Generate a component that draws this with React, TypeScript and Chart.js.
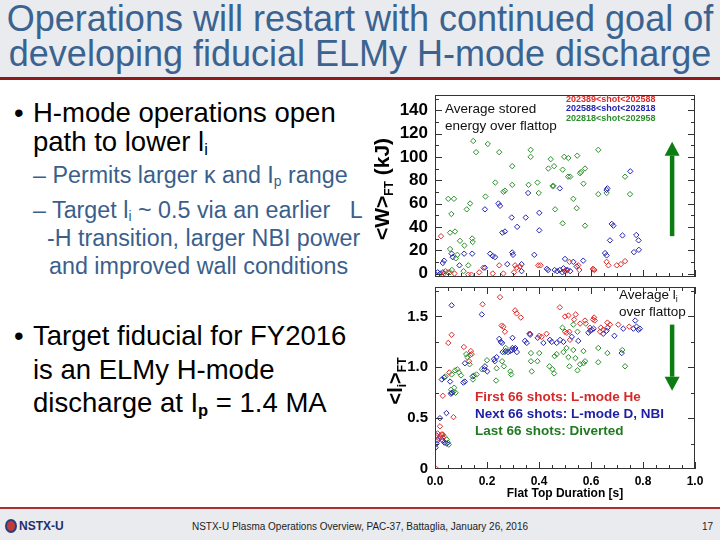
import React, { useEffect, useRef } from "react";
import { Chart, registerables } from "chart.js";

Chart.register(...registerables);

const RED = "#e02a2a";
const BLUE = "#2424b0";
const GREEN = "#2e8e2e";
const ARROW = "#0b7d12";
const FONT = '"Liberation Sans", Arial, Helvetica, sans-serif';

// Top panel: average stored energy <W>FT (kJ) vs flat top duration (s)
const wRed: [number, number][] = [
  [0.023, 32], [0.035, 0], [0.05, 1], [0.075, 0], [0.128, -1], [0.14, -1], [0.17, 1], [0.186, 5],
  [0.222, 0], [0.247, 7], [0.263, 0], [0.308, 7], [0.314, 5], [0.304, 1], [0.327, 6], [0.397, 7],
  [0.406, 7], [0.5, 2], [0.505, 3], [0.517, 10], [0.551, 7], [0.555, 3], [0.607, 4], [0.613, 3],
  [0.61, 3.5], [0.667, 7], [0.66, 10], [0.699, 7], [0.715, 8], [0.731, 10.6],
];
const wBlue: [number, number][] = [
  [0.244, 60], [0.25, 58], [0.192, 55], [0.295, 48], [0.259, 35], [0.269, 36], [0.316, 40], [0.349, 48],
  [0.401, 52], [0.401, 37], [0.358, 69], [0.48, 73], [0.663, 73], [0.66, 71.6], [0.751, 87.6], [0.68, 42.5],
  [0.686, 41], [0.673, 28.4], [0.721, 32.6], [0.774, 33], [0.783, 28.4], [0.765, 18.3], [0.784, 20.3],
  [0.654, 17.5], [0.66, 15.5], [0.57, 11], [0.5, 12.5], [0.494, 4.5], [0.03, 9], [0.035, 11], [0.064, 17],
  [0.068, 14], [0.094, 7], [0.112, 17], [0.143, 17], [0.212, 17], [0.222, 15], [0.231, 14], [0.297, 18],
  [0.3, 16], [0.278, 8], [0.333, 8], [0.382, 16], [0.333, 2], [0.192, 5], [0.43, 4], [0.435, 3],
  [0.532, 10], [0.545, 6], [0.46, 3], [0.47, 2], [0.48, 3], [0.49, 1], [0.5, 2], [0.51, 3], [0.52, 2],
  [0.0, 0], [0.01, 1], [0.02, 0], [0.03, 1],
];
const wGreen: [number, number][] = [
  [0.147, 113.6], [0.158, 104], [0.203, 111], [0.247, 104], [0.297, 92], [0.368, 106], [0.368, 100],
  [0.445, 98], [0.458, 92], [0.436, 90], [0.497, 100], [0.513, 99], [0.547, 101], [0.491, 89], [0.512, 83],
  [0.52, 83], [0.558, 86], [0.562, 87], [0.577, 90], [0.628, 106], [0.571, 77], [0.232, 78], [0.194, 66],
  [0.263, 70], [0.269, 71], [0.297, 76], [0.36, 76], [0.394, 78], [0.399, 69], [0.452, 75], [0.456, 75],
  [0.462, 55], [0.491, 43], [0.532, 64], [0.545, 56], [0.577, 41], [0.628, 68], [0.66, 69], [0.75, 68],
  [0.731, 83], [0.051, 64], [0.073, 64], [0.063, 51], [0.122, 55], [0.135, 60], [0.058, 35], [0.077, 36],
  [0.096, 28], [0.113, 24], [0.143, 30], [0.145, 27], [0.058, 21], [0.086, 16], [0.08, 13], [0.128, 7],
  [0.11, 2], [0.058, 1], [0.04, 2], [0.065, 3],
];

// Bottom panel: average internal inductance <li>FT vs flat top duration (s)
const liRed: [number, number][] = [
  [0.25, 1.69], [0.183, 1.62], [0.308, 1.56], [0.314, 1.53], [0.33, 1.49], [0.48, 1.59], [0.5, 1.5],
  [0.513, 1.51], [0.535, 1.47], [0.541, 1.52], [0.558, 1.43], [0.577, 1.46], [0.608, 1.47], [0.612, 1.49],
  [0.615, 1.46], [0.596, 1.39], [0.638, 1.39], [0.663, 1.44], [0.673, 1.42], [0.705, 1.42], [0.747, 1.4],
  [0.635, 1.35], [0.647, 1.37], [0.256, 1.41], [0.263, 1.4], [0.269, 1.35], [0.064, 1.32], [0.051, 1.24],
  [0.111, 1.2], [0.138, 1.16], [0.141, 1.13], [0.131, 1.06], [0.401, 1.31], [0.41, 1.3], [0.363, 1.33],
  [0.429, 1.33], [0.5, 1.35], [0.507, 1.34], [0.517, 1.35], [0.519, 1.27], [0.055, 0.95], [0.03, 0.72],
  [0.071, 0.51], [0.01, 0.35], [0.02, 0.32], [0.03, 0.34], [0.019, 0.42], [0.025, 0.34], [0.03, 0.31],
  [0.015, 0.3], [0.006, 0.0],
];
const liBlue: [number, number][] = [
  [0.064, 1.61], [0.18, 1.52], [0.298, 1.29], [0.247, 1.28], [0.253, 1.25], [0.258, 1.24], [0.365, 1.33],
  [0.366, 1.32], [0.346, 1.26], [0.353, 1.24], [0.395, 1.29], [0.417, 1.24], [0.442, 1.27], [0.449, 1.25],
  [0.468, 1.24], [0.481, 1.27], [0.494, 1.25], [0.526, 1.3], [0.551, 1.26], [0.59, 1.34], [0.597, 1.36],
  [0.603, 1.37], [0.61, 1.38], [0.664, 1.39], [0.66, 1.36], [0.69, 1.31], [0.724, 1.38], [0.763, 1.38],
  [0.775, 1.4], [0.782, 1.37], [0.788, 1.38], [0.77, 1.46], [0.718, 1.14], [0.647, 1.33], [0.26, 1.15],
  [0.272, 1.16], [0.281, 1.15], [0.29, 1.16], [0.296, 1.17], [0.305, 1.18], [0.315, 1.15], [0.309, 1.19],
  [0.298, 1.19], [0.237, 1.1], [0.23, 1.06], [0.227, 1.08], [0.192, 1.01], [0.19, 0.98], [0.201, 0.96],
  [0.115, 1.04], [0.109, 0.85], [0.115, 0.86], [0.145, 0.91], [0.058, 0.86], [0.064, 0.75], [0.061, 0.74],
  [0.026, 0.88], [0.035, 0.9], [0.044, 0.55], [0.019, 0.5], [0.006, 0.33], [0.01, 0.28], [0.006, 0.25],
  [0.03, 0.28], [0.036, 0.26], [0.045, 0.25], [0.002, 0.21],
];
const liGreen: [number, number][] = [
  [0.49, 1.39], [0.532, 1.42], [0.58, 1.43], [0.548, 1.35], [0.468, 1.13], [0.46, 1.11], [0.494, 1.15],
  [0.506, 1.19], [0.513, 1.1], [0.532, 1.17], [0.54, 1.09], [0.571, 1.16], [0.558, 1.03], [0.548, 0.97],
  [0.517, 1.01], [0.571, 1.04], [0.577, 1.06], [0.628, 1.19], [0.663, 1.14], [0.628, 1.05], [0.731, 1.01],
  [0.72, 1.17], [0.44, 1.01], [0.452, 0.98], [0.458, 0.94], [0.394, 1.06], [0.401, 1.14], [0.372, 0.96],
  [0.369, 1.14], [0.369, 1.06], [0.29, 0.96], [0.293, 0.93], [0.265, 1.01], [0.258, 1.06], [0.272, 1.19],
  [0.269, 1.15], [0.237, 0.99], [0.235, 0.87], [0.2, 1.07], [0.18, 0.98], [0.16, 0.93], [0.15, 0.92],
  [0.146, 0.88], [0.12, 1.13], [0.124, 1.1], [0.135, 1.12], [0.133, 1.03], [0.086, 0.98], [0.092, 0.95],
  [0.1, 0.92], [0.077, 0.97], [0.064, 0.93], [0.062, 0.78], [0.071, 0.76], [0.074, 0.8], [0.079, 0.75],
  [0.066, 0.75], [0.04, 0.91], [0.035, 0.32], [0.045, 0.29], [0.05, 0.26], [0.053, 0.24],
];

const xTicks = [0, 0.2, 0.4, 0.6, 0.8, 1.0];
const wTicks = [0, 20, 40, 60, 80, 100, 120, 140];
const liTicks = [0, 0.5, 1.0, 1.5];

// annotation arrows (data units): [x, tail y, tip y]
const wArrow = [0.912, 32, 113];
const liArrow = [0.912, 1.42, 0.77];

const framePlugin = {
  id: "frame",
  afterDatasetsDraw(chart: any, _a: any, opts: any) {
    const { ctx, chartArea: a, scales } = chart;
    const xs = scales.x;
    const ys = scales.y;
    ctx.save();
    ctx.strokeStyle = "#333";
    ctx.lineWidth = 1;
    ctx.strokeRect(Math.round(a.left) + 0.5, Math.round(a.top) + 0.5, Math.round(a.right - a.left) - 1, Math.round(a.bottom - a.top) - 1);
    ctx.beginPath();
    const nx = Math.round(1 / opts.xMinor);
    for (let i = 0; i <= nx; i++) {
      const v = i * opts.xMinor;
      const px = Math.round(xs.getPixelForValue(v)) + 0.5;
      const major = i % 4 === 0;
      ctx.moveTo(px, a.bottom);
      ctx.lineTo(px, a.bottom - (major ? 7 : 4));
      const tl = major ? opts.topMajor : opts.topMinor;
      if (tl > 0) {
        ctx.moveTo(px, a.top);
        ctx.lineTo(px, a.top + tl);
      }
    }
    const ny = Math.round((opts.yMax - opts.yMin) / opts.yMinor);
    for (let i = 0; i <= ny; i++) {
      const v = opts.yMin + i * opts.yMinor;
      const py = Math.round(ys.getPixelForValue(v)) + 0.5;
      if (py < a.top || py > a.bottom) continue;
      const len = i % opts.yMajorEvery === 0 ? 7 : 4;
      ctx.moveTo(a.left, py);
      ctx.lineTo(a.left + len, py);
      ctx.moveTo(a.right, py);
      ctx.lineTo(a.right - len, py);
    }
    ctx.stroke();
    // arrow
    const [ax, ay0, ay1] = opts.arrow;
    const px = xs.getPixelForValue(ax);
    const p0 = ys.getPixelForValue(ay0);
    const p1 = ys.getPixelForValue(ay1);
    const dir = p1 < p0 ? -1 : 1;
    const head = 14;
    ctx.strokeStyle = ARROW;
    ctx.fillStyle = ARROW;
    ctx.lineWidth = 4.5;
    ctx.beginPath();
    ctx.moveTo(px, p0);
    ctx.lineTo(px, p1 - dir * head);
    ctx.stroke();
    ctx.beginPath();
    ctx.moveTo(px, p1);
    ctx.lineTo(px - 7.5, p1 - dir * head);
    ctx.lineTo(px + 7.5, p1 - dir * head);
    ctx.closePath();
    ctx.fill();
    ctx.restore();
  },
};

function ds(label: string, pts: [number, number][], color: string) {
  return {
    label,
    data: pts.map(([x, y]) => ({ x, y })),
    pointStyle: "rectRot",
    pointRadius: 2.7,
    pointBorderWidth: 1,
    borderColor: color,
    backgroundColor: "rgba(0,0,0,0)",
    pointBackgroundColor: "rgba(0,0,0,0)",
    pointBorderColor: color,
    showLine: false,
  };
}

export default function App() {
  const topRef = useRef<HTMLCanvasElement>(null);
  const botRef = useRef<HTMLCanvasElement>(null);

  useEffect(() => {
    const top = new Chart(topRef.current as HTMLCanvasElement, {
      type: "scatter",
      data: {
        datasets: [
          ds("202389<shot<202588", wRed, RED),
          ds("202588<shot<202818", wBlue, BLUE),
          ds("202818<shot<202958", wGreen, GREEN),
        ],
      },
      options: {
        animation: false,
        responsive: false,
        maintainAspectRatio: false,
        layout: { padding: { left: 0, top: 3, right: 10, bottom: 5 } },
        plugins: {
          legend: { display: false },
          tooltip: { enabled: false },
          frame: { xMinor: 0.05, topMajor: 0, topMinor: 0, yMin: 0, yMax: 150, yMinor: 10, yMajorEvery: 2, arrow: wArrow },
        } as any,
        scales: {
          x: {
            type: "linear",
            min: 0,
            max: 1,
            afterBuildTicks: (s: any) => { s.ticks = xTicks.map((v) => ({ value: v })); },
            ticks: { display: false },
            grid: { display: false, drawTicks: false },
            border: { display: false },
            afterFit: (s: any) => { s.height = 0; },
          },
          y: {
            type: "linear",
            min: -3,
            max: 153,
            afterBuildTicks: (s: any) => { s.ticks = wTicks.map((v) => ({ value: v })); },
            ticks: { color: "#000", padding: 7, font: { family: FONT, size: 17, weight: "bold" } },
            grid: { display: false, drawTicks: false },
            border: { display: false },
            afterFit: (s: any) => { s.width = 65; s.paddingTop = 0; s.paddingBottom = 0; },
          },
        },
      } as any,
      plugins: [framePlugin],
    });
    const bot = new Chart(botRef.current as HTMLCanvasElement, {
      type: "scatter",
      data: {
        datasets: [
          ds("First 66 shots: L-mode He", liRed, RED),
          ds("Next 66 shots: L-mode D, NBI", liBlue, BLUE),
          ds("Last 66 shots: Diverted", liGreen, GREEN),
        ],
      },
      options: {
        animation: false,
        responsive: false,
        maintainAspectRatio: false,
        layout: { padding: { left: 0, top: 3, right: 10, bottom: 0 } },
        plugins: {
          legend: { display: false },
          tooltip: { enabled: false },
          frame: { xMinor: 0.05, topMajor: 7, topMinor: 4, yMin: 0, yMax: 1.75, yMinor: 0.25, yMajorEvery: 2, arrow: liArrow },
        } as any,
        scales: {
          x: {
            type: "linear",
            min: 0,
            max: 1,
            afterBuildTicks: (s: any) => { s.ticks = xTicks.map((v) => ({ value: v })); },
            ticks: { color: "#000", padding: 5, font: { family: FONT, size: 12, weight: "bold" }, callback: (v: any) => Number(v).toFixed(1) },
            grid: { display: false, drawTicks: false },
            border: { display: false },
            title: { display: true, text: "Flat Top Duration [s]", color: "#000", font: { family: FONT, size: 12, weight: "bold" }, padding: { top: 0, bottom: 6 } },
            afterFit: (s: any) => { s.height = 38; s.paddingLeft = 0; s.paddingRight = 0; },
          },
          y: {
            type: "linear",
            min: 0,
            max: 1.79,
            afterBuildTicks: (s: any) => { s.ticks = liTicks.map((v) => ({ value: v })); },
            ticks: { color: "#000", padding: 7, font: { family: FONT, size: 15, weight: "bold" }, callback: (v: any) => (v === 0 ? "0" : Number(v).toFixed(1)) },
            grid: { display: false, drawTicks: false },
            border: { display: false },
            afterFit: (s: any) => { s.width = 65; s.paddingTop = 0; s.paddingBottom = 0; },
          },
        },
      } as any,
      plugins: [framePlugin],
    });
    return () => {
      top.destroy();
      bot.destroy();
    };
  }, []);

  const abs = (l: number, t: number, extra: any = {}) => ({ position: "absolute" as const, left: l, top: t, whiteSpace: "nowrap" as const, ...extra });
  const bulletFs = 27.5;
  const subFs = 23.3;
  const subColor = "#3b5f8c";
  const main = (t: number) => abs(33, t, { fontSize: bulletFs, lineHeight: bulletFs + "px", color: "#000" });
  const sub = (l: number, t: number) => abs(l, t, { fontSize: subFs, lineHeight: subFs + "px", color: subColor });
  const subS = { fontSize: "0.6em", verticalAlign: "-0.25em", lineHeight: 0 };

  return (
    <div style={{ position: "absolute", left: 0, top: 0, width: 720, height: 540, background: "#fff", overflow: "hidden", fontFamily: FONT }}>
      {/* title bar */}
      <div style={abs(0, 0, { width: 720, height: 77, background: "#e9ebee" })} />
      <div style={abs(0, 77, { width: 720, height: 3, background: "#8e1b1b" })} />
      <div style={abs(0, 0.5, { width: 720, textAlign: "center", fontSize: 36, lineHeight: "36px", color: "#3a6391" })}>
        Operations will restart with continued goal of
      </div>
      <div style={abs(0, 35.5, { width: 720, textAlign: "center", fontSize: 36, lineHeight: "36px", color: "#3a6391" })}>
        developing fiducial ELMy H-mode discharge
      </div>

      {/* bullets */}
      <div style={abs(14, 99.2, { fontSize: bulletFs, lineHeight: bulletFs + "px" })}>•</div>
      <div style={main(99.2)}>H-mode operations open</div>
      <div style={main(127.7)}>path to lower l<span style={subS}>i</span></div>
      <div style={sub(33, 164.3)}>– Permits larger κ and I<span style={subS}>p</span> range</div>
      <div style={sub(33, 199.3)}>– Target l<span style={subS}>i</span> ~ 0.5 via an earlier &nbsp; L</div>
      <div style={sub(47, 227.3)}>-H transition, larger NBI power</div>
      <div style={sub(49, 255.3)}>and improved wall conditions</div>

      <div style={abs(14, 321.7, { fontSize: bulletFs, lineHeight: bulletFs + "px" })}>•</div>
      <div style={main(321.7)}>Target fiducial for FY2016</div>
      <div style={main(355.7)}>is an ELMy H-mode</div>
      <div style={main(388.7)}>discharge at I<span style={{ ...subS, fontWeight: "bold" }}>p</span> = 1.4 MA</div>

      {/* charts */}
      <canvas ref={topRef} width={335} height={192} style={abs(370, 90, { display: "block" })} />
      <canvas ref={botRef} width={335} height={225} style={abs(370, 282, { display: "block" })} />

      {/* axis titles */}
      <div style={abs(381, 189, { transform: "translate(-50%,-50%) rotate(-90deg)", fontSize: 21, fontWeight: "bold", lineHeight: "21px", color: "#000" })}>
        &lt;W&gt;<span style={{ fontSize: 12, verticalAlign: "-4px", lineHeight: 0 }}>FT</span> (kJ)
      </div>
      <div style={abs(395, 381, { transform: "translate(-50%,-50%) rotate(-90deg)", fontSize: 20, fontWeight: "bold", lineHeight: "20px", color: "#000" })}>
        &lt;l<span style={{ fontSize: 12, verticalAlign: "-4px", lineHeight: 0 }}>i</span>&gt;<span style={{ fontSize: 12, verticalAlign: "-4px", lineHeight: 0 }}>FT</span>
      </div>

      {/* top panel annotations */}
      <div style={abs(445, 99.5, { fontSize: 13.5, lineHeight: "17px", color: "#111" })}>Average stored</div>
      <div style={abs(445, 116.5, { fontSize: 13.5, lineHeight: "17px", color: "#111" })}>energy over flattop</div>
      <div style={abs(566, 94.5, { fontSize: 9, lineHeight: "9.5px", fontWeight: "bold" })}>
        <div style={{ color: RED }}>202389&lt;shot&lt;202588</div>
        <div style={{ color: BLUE }}>202588&lt;shot&lt;202818</div>
        <div style={{ color: GREEN }}>202818&lt;shot&lt;202958</div>
      </div>

      {/* bottom panel annotations */}
      <div style={abs(619, 285.5, { fontSize: 13.5, lineHeight: "17px", color: "#111" })}>
        Average l<span style={{ fontSize: 9, verticalAlign: "-3px", lineHeight: 0 }}>i</span>
      </div>
      <div style={abs(619, 302.5, { fontSize: 13.5, lineHeight: "17px", color: "#111" })}>over flattop</div>
      <div style={abs(475, 388, { fontSize: 13.5, lineHeight: "17px", fontWeight: "bold" })}>
        <div style={{ color: "#d42a2a" }}>First 66 shots: L-mode He</div>
        <div style={{ color: "#1f1fa6" }}>Next 66 shots: L-mode D, NBI</div>
        <div style={{ color: "#217a21" }}>Last 66 shots: Diverted</div>
      </div>

      {/* footer */}
      <div style={abs(0, 508, { width: 720, height: 32, background: "#e9ebee" })} />
      <div style={abs(0, 507, { width: 720, height: 1.5, background: "#a83232" })} />
      <div style={abs(5, 519, { width: 12, height: 14, borderRadius: "50%", border: "2px solid #2a3f7a", boxSizing: "border-box", background: "#c23b3b" })} />
      <div style={abs(19, 519, { fontSize: 12, lineHeight: "14px", fontWeight: "bold", color: "#1e2f6e" })}>NSTX-U</div>
      <div style={abs(0, 521, { width: 720, textAlign: "center", fontSize: 10, lineHeight: "12px", color: "#222" })}>
        NSTX-U Plasma Operations Overview, PAC-37, Battaglia, January 26, 2016
      </div>
      <div style={abs(702, 521, { fontSize: 10, lineHeight: "12px", color: "#222" })}>17</div>
    </div>
  );
}
